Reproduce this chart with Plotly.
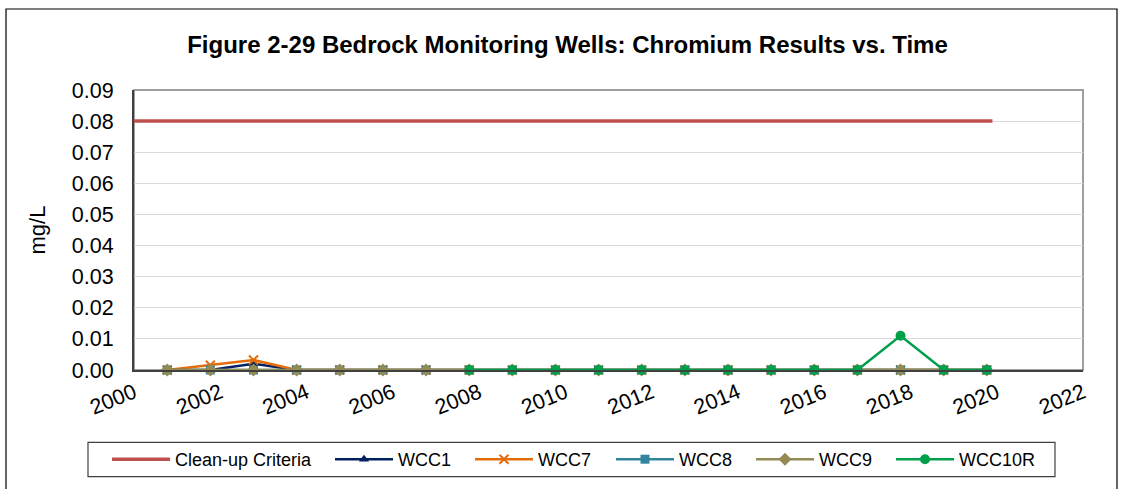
import plotly.graph_objects as go

# ---------------- data ----------------
sample_years = [2000.77, 2001.77, 2002.77, 2003.77, 2004.77, 2005.77, 2006.77,
                2007.77, 2008.77, 2009.77, 2010.77, 2011.77, 2012.77, 2013.77,
                2014.77, 2015.77, 2016.77, 2017.77, 2018.77, 2019.77]

wcc1 = [0, 0, 0.002, 0, 0, 0, 0, 0, 0, 0, 0, 0, 0, 0, 0, 0, 0, 0, 0, 0]
wcc7 = [0, 0.0015, 0.0032, 0, 0, 0, 0, 0, 0, 0, 0, 0, 0, 0, 0, 0, 0, 0, 0, 0]
wcc8 = [0, 0, 0, 0, 0, 0, 0, 0, 0, 0, 0, 0, 0, 0, 0, 0, 0, 0, 0, 0]
wcc9 = [0, 0, 0, 0, 0, 0, 0, 0, 0, 0, 0, 0, 0, 0, 0, 0, 0, 0, 0, 0]

wcc10r_years = [2007.77, 2008.77, 2009.77, 2010.77, 2011.77, 2012.77, 2013.77,
                2014.77, 2015.77, 2016.77, 2017.77, 2018.77, 2019.77]
wcc10r = [0, 0, 0, 0, 0, 0, 0, 0, 0, 0, 0.011, 0, 0]

criteria_years = [2000, 2019.9]
criteria = [0.08, 0.08]

x_ticks = [2000, 2002, 2004, 2006, 2008, 2010, 2012, 2014, 2016, 2018, 2020, 2022]
y_ticks = [0.00, 0.01, 0.02, 0.03, 0.04, 0.05, 0.06, 0.07, 0.08, 0.09]

# ---------------- geometry helpers ----------------
W, H = 1125, 489
L, R, T, B = 134, 1083, 90, 370
def px(x):
    return (x - L) / (R - L)
def py(y):
    return (B - y) / (B - T)

FONT = "Arial, Liberation Sans, sans-serif"

fig = go.Figure()

series = [
    dict(name="Clean-up Criteria", x=criteria_years, y=criteria, color="#C0504D",
         width=3.5, mode="lines", marker=None, legend="legend"),
    dict(name="WCC1", x=sample_years, y=wcc1, color="#002060", width=2.5,
         mode="lines+markers", marker=dict(symbol="triangle-up", size=9), legend="legend2"),
    dict(name="WCC7", x=sample_years, y=wcc7, color="#E46C0A", width=2.5,
         mode="lines+markers", marker=dict(symbol="x-thin", size=9,
                                            line=dict(width=2, color="#E46C0A")), legend="legend3"),
    dict(name="WCC8", x=sample_years, y=wcc8, color="#31859C", width=2.5,
         mode="lines+markers", marker=dict(symbol="square", size=9), legend="legend4"),
    dict(name="WCC9", x=sample_years, y=wcc9, color="#948A54", width=2.5,
         mode="lines+markers", marker=dict(symbol="diamond", size=10), legend="legend5"),
    dict(name="WCC10R", x=wcc10r_years, y=wcc10r, color="#00A04A", width=2.5,
         mode="lines+markers", marker=dict(symbol="circle", size=10), legend="legend6"),
]

for s in series:
    kw = dict(x=s["x"], y=s["y"], name=s["name"], mode=s["mode"],
              line=dict(color=s["color"], width=s["width"]), legend=s["legend"],
              cliponaxis=False)
    if s["marker"] is not None:
        m = dict(s["marker"])
        m.setdefault("color", s["color"])
        kw["marker"] = m
    fig.add_trace(go.Scatter(**kw))

# legend positions (pixel x where each legend item starts)
legend_px = [107, 330, 470, 611, 751, 891]
legend_names = ["legend", "legend2", "legend3", "legend4", "legend5", "legend6"]
legend_y = py(459.5)
legend_layout = {}
for name, xp in zip(legend_names, legend_px):
    legend_layout[name] = dict(
        x=px(xp), y=legend_y, xanchor="left", yanchor="middle",
        orientation="h", bgcolor="rgba(0,0,0,0)", borderwidth=0,
        font=dict(family=FONT, size=18, color="#000000"),
        itemwidth=58,
    )

shapes = [
    # outer chart border
    dict(type="rect", xref="paper", yref="paper", x0=px(6), x1=px(1117),
         y0=py(520), y1=py(9), line=dict(color="#000000", width=1.2), layer="below"),
    # plot area border (top/right)
    dict(type="rect", xref="paper", yref="paper", x0=0, x1=1, y0=0, y1=1,
         line=dict(color="#808080", width=1.5), layer="below"),
    # legend box
    dict(type="rect", xref="paper", yref="paper", x0=px(88), x1=px(1055),
         y0=py(476.7), y1=py(442.3), line=dict(color="#404040", width=1.2), layer="below"),
]

fig.update_layout(
    width=W, height=H,
    margin=dict(l=L, r=W - R, t=T, b=H - B, autoexpand=False),
    paper_bgcolor="#FFFFFF", plot_bgcolor="#FFFFFF",
    font=dict(family=FONT, color="#000000"),
    title=dict(text="<b>Figure 2-29 Bedrock Monitoring Wells: Chromium Results vs. Time</b>",
               x=0.5 + 5 / W, xanchor="center", xref="container", y=1 - 45 / H, yanchor="middle",
               font=dict(family=FONT, size=24, color="#000000")),
    xaxis=dict(range=[2000, 2022], tickvals=x_ticks, ticktext=[str(v) for v in x_ticks],
               tickangle=-22, showgrid=False, zeroline=False, showline=True,
               linecolor="#404040", linewidth=2, ticks="",
               tickfont=dict(family=FONT, size=21.5, color="#000000")),
    yaxis=dict(range=[0, 0.09], tickvals=y_ticks, tickformat=".2f", showgrid=True,
               gridcolor="#D9D9D9", gridwidth=1, zeroline=False, showline=True,
               linecolor="#404040", linewidth=2, ticks="", ticklabelstandoff=14,
               tickfont=dict(family=FONT, size=21.5, color="#000000"),
               title=dict(text="mg/L", standoff=20, font=dict(family=FONT, size=22, color="#000000"))),
    shapes=shapes,
    showlegend=True,
    **legend_layout,
)

fig.write_html("out.html", config={"displayModeBar": False},
               post_script="document.body.style.margin='0';")
